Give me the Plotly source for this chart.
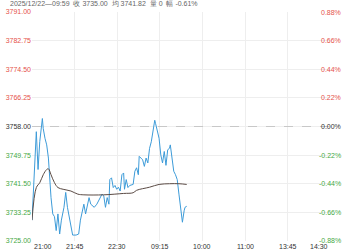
import plotly.graph_objects as go

# ---------------- data ----------------
prev_close = 3758.00
header_text = "2025/12/22—09:59  收 3735.00  均 3741.82  量 0  幅 -0.61%"

price_min = [0, 5, 7, 9, 12, 13, 15, 17, 19, 20, 22, 24, 26, 28, 30, 32, 34, 37, 39, 41,
             43, 45, 47, 51, 54, 56, 60, 62, 66, 68, 72, 75, 79, 81, 83, 85, 87, 89, 90, 92,
             94, 96, 98, 100, 102, 104, 106, 107, 109, 111, 113, 117, 119, 121, 123, 124, 126, 128, 130, 132,
             134, 136, 138, 140, 142, 143, 145, 147, 149, 151, 153, 155, 157, 159, 160, 162, 164, 166, 168, 170,
             172, 174, 176, 177, 179]
price_val = [3731.0, 3756.5, 3745.6, 3753.7, 3760.3, 3757.4, 3754.6, 3752.7, 3748.9, 3744.1,
             3737.5, 3732.8, 3732.0, 3728.0, 3732.8, 3727.0, 3731.0, 3734.7, 3739.0, 3734.7,
             3731.8, 3729.0, 3726.7, 3726.7, 3727.0, 3731.0, 3735.6, 3732.8, 3737.5, 3735.6,
             3734.7, 3735.6, 3737.5, 3738.5, 3738.0, 3734.7, 3737.5, 3735.6, 3742.7, 3743.2,
             3740.4, 3741.0, 3739.9, 3740.5, 3739.4, 3744.1, 3744.6, 3739.9, 3742.7, 3740.4,
             3741.0, 3741.3, 3745.1, 3746.1, 3744.1, 3749.4, 3748.9, 3748.4, 3746.5, 3748.9,
             3747.5, 3751.7, 3753.6, 3757.4, 3759.8, 3758.8, 3757.0, 3754.6, 3749.8, 3747.5,
             3750.8, 3746.8, 3751.3, 3751.7, 3752.7, 3748.9, 3745.1, 3744.1, 3742.7, 3738.5,
             3734.7, 3730.4, 3733.7, 3734.7, 3735.0]

avg_min = [0, 5, 9, 13, 17, 19, 22, 26, 30, 36, 45, 53, 60, 83, 106, 117, 121, 136, 147, 159, 170, 179]
avg_val = [3731.0, 3740.4, 3741.8, 3744.1, 3745.6, 3745.8, 3744.1, 3741.8, 3740.4, 3739.9,
           3739.4, 3738.5, 3738.3, 3738.3, 3738.7, 3738.9, 3739.6, 3740.5, 3741.3, 3741.5,
           3741.5, 3741.3]

y_ticks = [3725.00, 3733.25, 3741.50, 3749.75, 3758.00, 3766.25, 3774.50, 3782.75, 3791.00]
pct_labels = ["-0.88%", "-0.66%", "-0.44%", "-0.22%", "0.00%", "0.22%", "0.44%", "0.66%", "0.88%"]
x_labels = ["21:00", "21:45", "22:30", "09:15", "10:00", "11:00", "13:45", "14:30"]
total_minutes = 345

# ---------------- style ----------------
RED = "#e5524a"
GREEN = "#45a845"
BLACK = "#333333"
FONT = "Liberation Sans, Arial, sans-serif"


def col(v):
    if v > prev_close + 1e-9:
        return RED
    if v < prev_close - 1e-9:
        return GREEN
    return BLACK


left_text = [f'<span style="color:{col(v)}">{v:.2f}</span>' for v in y_ticks]

n = len(x_labels) - 1
x_tick_pos = [total_minutes * i / n for i in range(n + 1)]

ymin, ymax = y_ticks[0] - 0.01, y_ticks[-1] + 0.01

fig = go.Figure()
fig.add_trace(go.Scatter(x=price_min, y=price_val, mode="lines",
                         line=dict(color="#3d9bd8", width=1), hoverinfo="skip"))
fig.add_trace(go.Scatter(x=avg_min, y=avg_val, mode="lines",
                         line=dict(color="#5a4a44", width=1, shape="spline"), hoverinfo="skip"))

W, H = 350, 250
ml, mr, mt, mb = 27, 6, 12, 6
plot_w = W - ml - mr
x_end = (330 - ml) / plot_w

fig.update_layout(
    width=W, height=H,
    margin=dict(l=ml, r=mr, t=mt, b=mb),
    paper_bgcolor="white", plot_bgcolor="white",
    showlegend=False,
    font=dict(family=FONT, size=7, color=BLACK),
    xaxis=dict(domain=[0, x_end], range=[0, total_minutes],
               tickvals=x_tick_pos[1:-1], showticklabels=False,
               showgrid=True, gridcolor="#eeeeee", gridwidth=1,
               zeroline=False, showline=False, ticks=""),
    yaxis=dict(range=[ymin, ymax], tickvals=y_ticks, ticktext=left_text,
               showgrid=True, gridcolor="#eeeeee", gridwidth=1,
               zeroline=False, showline=False, ticks="",
               tickfont=dict(size=7, family=FONT)),
)

fig.add_hline(y=prev_close, line=dict(color="#c8c8c8", width=1, dash="dash"))

# right-hand percentage labels, placed on the price scale
for v, t in zip(y_ticks, pct_labels):
    fig.add_annotation(x=(343 - ml) / plot_w, y=v, xref="paper", yref="y", text=t,
                       showarrow=False, xanchor="right", yanchor="middle",
                       font=dict(size=7, color=col(v), family=FONT))

for i, (xp, lab) in enumerate(zip(x_tick_pos, x_labels)):
    anchor = "left" if i == 0 else ("right" if i == n else "center")
    fig.add_annotation(x=xp, y=0, xref="x", yref="paper", text=lab, showarrow=False,
                       xanchor=anchor, yanchor="top", yshift=0,
                       font=dict(size=7, color=BLACK, family=FONT))

fig.add_annotation(x=-(ml - 3) / plot_w, y=1 + (mt - 3) / (H - mt - mb), xref="paper", yref="paper",
                   text=header_text, showarrow=False, xanchor="left", yanchor="middle",
                   font=dict(size=7, color="#666666", family=FONT))

fig.write_html("out.html")
